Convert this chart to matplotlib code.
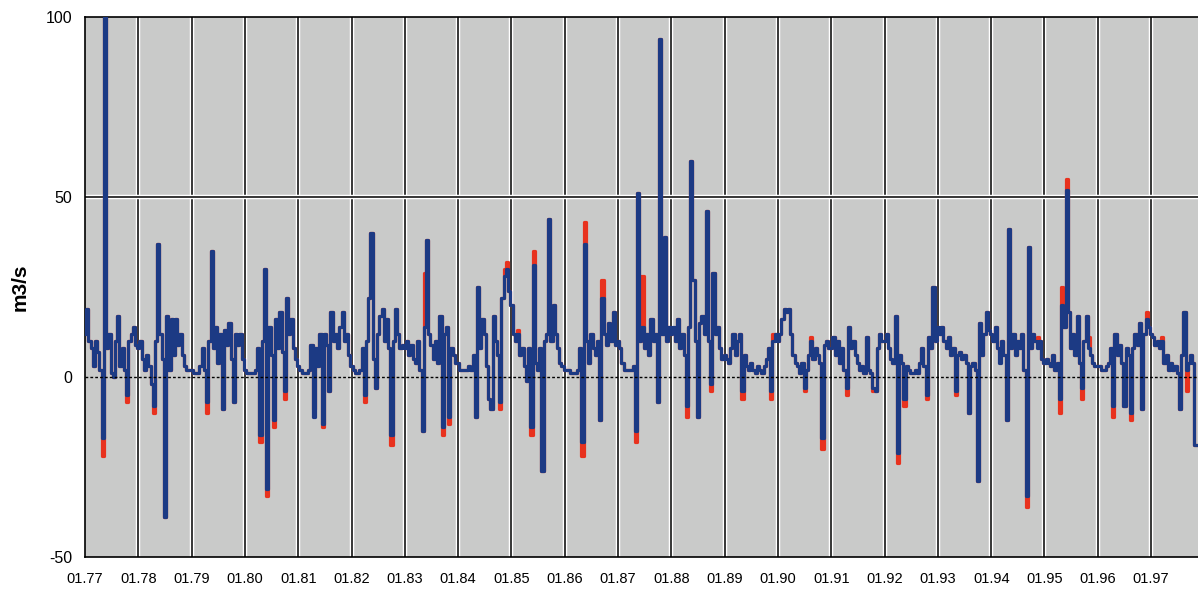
import numpy as np
import matplotlib
matplotlib.use("Agg")
import matplotlib.pyplot as plt
import matplotlib.patheffects as pe

plt.rcParams["font.family"] = ["Liberation Sans", "DejaVu Sans"]
plt.rcParams["axes.unicode_minus"] = False

# discharge, 24 samples per year starting 01.1977 (m3/s)
start_year = 1977
per_year = 24
flow = [
    12, 19, 10, 8, 3, 10, 7, 2, -17, 100, 8, 12, 1, 0, 10, 17, 3, 8, 2, -5, 10, 12, 14, 9,          # 77
    8, 10, 5, 2, 6, 3, -2, -8, 10, 37, 12, 5, -39, 17, 2, 16, 6, 16, 9, 12, 6, 3, 2, 2,             # 78
    2, 1, 1, 1, 3, 8, 2, -7, 10, 35, 8, 14, 4, 12, -9, 13, 9, 15, 5, -7, 12, 9, 12, 5,              # 79
    2, 1, 1, 1, 1, 2, 8, -16, 10, 30, -31, 14, 6, -12, 16, 8, 18, 7, -4, 22, 12, 16, 8, 5,          # 80
    3, 2, 1, 1, 1, 2, 9, -11, 8, 3, 12, -13, 12, 9, -4, 18, 10, 12, 8, 14, 18, 10, 12, 6,           # 81
    3, 2, 1, 1, 2, 8, -5, 10, 22, 40, 5, -3, 12, 17, 19, 10, 16, 8, -16, 10, 19, 12, 8, 9,          # 82
    8, 10, 6, 9, 5, 4, 10, 2, -15, 14, 38, 12, 9, 5, 10, 4, 17, -14, 12, 14, -11, 8, 6, 4,          # 83
    4, 2, 2, 2, 2, 3, 2, 6, -11, 25, 8, 16, 12, 3, -6, -9, 17, 10, 6, -7, 22, 28, 30, 24,           # 84
    20, 12, 10, 12, 6, 8, 3, -1, 8, -14, 31, 4, 2, 8, -26, 10, 12, 44, 10, 20, 12, 8, 4, 3,         # 85
    2, 2, 2, 1, 1, 1, 2, 8, -18, 37, 10, 4, 12, 8, 6, 10, -12, 22, 12, 9, 15, 10, 18, 9,            # 86
    10, 8, 4, 2, 2, 2, 2, 3, -15, 51, 10, 14, 8, 12, 6, 16, 10, 12, -7, 94, 12, 39, 10, 14,         # 87
    12, 14, 10, 16, 8, 12, 6, -8, 14, 60, 27, 10, -11, 15, 17, 12, 46, 10, -2, 29, 12, 14, 8, 5,    # 88
    6, 5, 4, 8, 12, 6, 10, 12, -4, 6, 3, 2, 4, 2, 1, 3, 2, 1, 3, 5, 8, -4, 10, 12,                  # 89
    10, 12, 16, 19, 18, 19, 12, 6, 4, 3, 1, 4, -3, 2, 6, 10, 5, 8, 6, 4, -17, 9, 10, 8,             # 90
    8, 11, 6, 10, 4, 8, 2, -3, 14, 8, 10, 6, 4, 2, 3, 1, 11, 2, 1, -3, -4, 8, 12, 10,               # 91
    10, 12, 8, 5, 4, 17, -21, 6, 4, -6, 3, 2, 1, 1, 2, 1, 4, 8, 3, -5, 11, 8, 25, 10,               # 92
    14, 12, 14, 10, 8, 11, 6, 8, -4, 6, 7, 5, 6, 4, -10, 3, 4, 2, -29, 15, 6, 12, 18, 13,           # 93
    12, 10, 14, 8, 4, 10, 6, -12, 41, 8, 12, 6, 10, 8, 12, 2, -33, 36, 8, 12, 10, 8, 10, 5,         # 94
    4, 5, 4, 3, 6, 2, 4, -6, 20, 14, 52, 18, 8, 12, 6, 17, 4, -3, 10, 17, 8, 6, 4, 3,               # 95
    3, 3, 2, 2, 3, 4, 8, -8, 12, 6, 9, 4, -8, 8, 6, -10, 8, 12, 9, 15, -9, 12, 16, 14,              # 96
    12, 11, 9, 10, 8, 10, 4, 6, 2, 4, 2, 3, 1, -9, 6, 18, 2, 4, 6, 4, -19,                          # 97
]

# second series: same as the first except where its tips show (year, sample) -> m3/s
red_tips = {
    (1977, 8): -22, (1977, 19): -7, (1978, 7): -10, (1979, 7): -10,
    (1980, 7): -18, (1980, 10): -33, (1980, 13): -14, (1980, 18): -6,
    (1981, 7): -9, (1981, 11): -14, (1982, 6): -7, (1982, 18): -19,
    (1983, 9): 29, (1983, 17): -16, (1983, 20): -13,
    (1984, 19): -9, (1984, 21): 30, (1984, 22): 32,
    (1985, 3): 13, (1985, 9): -16, (1985, 10): 35,
    (1986, 8): -22, (1986, 9): 43, (1986, 17): 27,
    (1987, 8): -18, (1987, 11): 28,
    (1988, 1): 13, (1988, 7): -11, (1988, 18): -4,
    (1989, 8): -6, (1989, 21): -6, (1989, 22): 12,
    (1990, 12): -4, (1990, 15): 11, (1990, 20): -20,
    (1991, 7): -5, (1991, 19): -4, (1991, 22): 12,
    (1992, 6): -24, (1992, 9): -8, (1992, 19): -6,
    (1993, 2): 14, (1993, 8): -5,
    (1994, 4): 7, (1994, 16): -36, (1994, 21): 11,
    (1995, 7): -10, (1995, 8): 25, (1995, 10): 55, (1995, 17): -6, (1995, 20): 11,
    (1996, 7): -11, (1996, 10): 9, (1996, 15): -12, (1996, 22): 18,
    (1997, 5): 11, (1997, 16): -4,
}

year_ticks = list(range(1977, 1998))
tick_labels = [f"01.{y % 100:02d}" for y in year_ticks]

t = start_year + np.arange(len(flow)) / per_year
flow = np.array(flow, dtype=float)
flow_red = flow.copy()
for (yr, s), v in red_tips.items():
    flow_red[(yr - start_year) * per_year + s] = v

fig = plt.figure(figsize=(11.98, 5.90), dpi=100)
ax = fig.add_axes([0.071, 0.0559, 0.929, 0.9153])
ax.set_facecolor("#c9cac9")

halo = [pe.Stroke(linewidth=3.2, foreground="white"), pe.Normal()]
for y in year_ticks[1:]:
    ax.axvline(y, color="black", lw=1.1, zorder=1, path_effects=halo)
ax.axhline(50, color="black", lw=1.1, zorder=1, path_effects=halo)
ax.axhline(0, color="black", lw=1.0, ls=(0, (2, 1.5)), zorder=4)

ax.plot(t, flow_red, color="#e8321e", lw=2.3, drawstyle="steps-mid", zorder=2)
ax.plot(t, flow, color="#1c3a84", lw=2.3, drawstyle="steps-mid", zorder=3)

ax.set_xlim(1977, 1997.88)
ax.set_ylim(-50, 100)
ax.set_yticks([-50, 0, 50, 100])
ax.set_xticks(year_ticks)
ax.set_xticklabels(tick_labels)
ax.tick_params(axis="both", length=0, labelsize=10.5)
ax.tick_params(axis="x", pad=11)
ax.tick_params(axis="y", pad=9, labelsize=11.5)
ax.set_ylabel("m3/s", fontsize=15, fontweight="bold", labelpad=12)

for side in ["left", "bottom", "top"]:
    ax.spines[side].set_color("black")
    ax.spines[side].set_linewidth(1.2)
ax.spines["right"].set_visible(False)

fig.savefig("out.png", dpi=100)
